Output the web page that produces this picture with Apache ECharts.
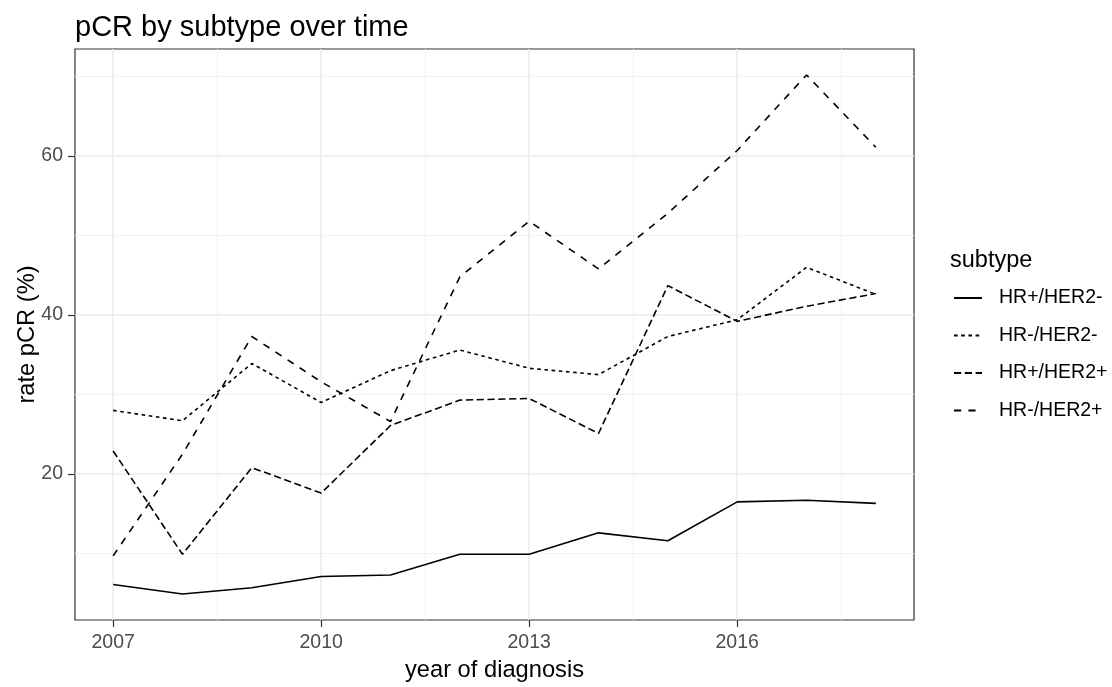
<!DOCTYPE html>
<html>
<head>
<meta charset="utf-8">
<script src="https://cdn.jsdelivr.net/npm/echarts@6/dist/echarts.min.js"></script>
<style>
  html, body { margin: 0; padding: 0; background: #ffffff; }
  #chart { width: 1112px; height: 687px; }
</style>
</head>
<body>
<div id="chart"></div>
<script>
// Year of diagnosis
const years = [2007, 2008, 2009, 2010, 2011, 2012, 2013, 2014, 2015, 2016, 2017, 2018];

// pCR rate (%) per subtype
const hrPosHer2Neg = [6.1, 4.9, 5.7, 7.1, 7.3, 9.9, 9.9, 12.6, 11.6, 16.5, 16.7, 16.3];
const hrNegHer2Neg = [28.0, 26.7, 33.9, 29.0, 33.0, 35.6, 33.3, 32.5, 37.3, 39.4, 46.0, 42.6];
const hrPosHer2Pos = [22.9, 9.9, 20.8, 17.6, 26.1, 29.3, 29.5, 25.1, 43.7, 39.2, 41.1, 42.7];
const hrNegHer2Pos = [9.7, 22.5, 37.3, 31.6, 26.6, 44.8, 51.8, 45.8, 52.8, 60.7, 70.2, 61.1];

const subtypes = ['HR+/HER2-', 'HR-/HER2-', 'HR+/HER2+', 'HR-/HER2+'];

// Axis breaks
const xMajorTicks = [2007, 2010, 2013, 2016];
const xMinorTicks = [2008.5, 2011.5, 2014.5, 2017.5];
const yMajorTicks = [20, 40, 60];
const yMinorTicks = [10, 30, 50, 70];

const FONT = '"Liberation Sans", Arial, Helvetica, sans-serif';

// 5% padding on each side of the data range
function padded(lo, hi) {
  const pad = (hi - lo) * 0.05;
  return [lo - pad, hi + pad];
}
const allValues = [].concat(hrPosHer2Neg, hrNegHer2Neg, hrPosHer2Pos, hrNegHer2Pos);
const [xMin, xMax] = padded(Math.min.apply(null, years), Math.max.apply(null, years));
const [yMin, yMax] = padded(Math.min.apply(null, allValues), Math.max.apply(null, allValues));

const seriesValues = [hrPosHer2Neg, hrNegHer2Neg, hrPosHer2Pos, hrNegHer2Pos];
const dashTypes = ['solid', [3.6, 3.6], [7.2, 3.6], [7.2, 7.2]];

const lineSeries = subtypes.map((name, i) => ({
  name: name,
  type: 'line',
  z: 3,
  data: years.map((yr, k) => [yr, seriesValues[i][k]]),
  symbol: 'none',
  showSymbol: false,
  animation: false,
  lineStyle: { color: '#000000', width: 1.6, type: dashTypes[i] },
  itemStyle: { color: '#000000' }
}));

// Panel grid lines
const gridLineData = []
  .concat(xMinorTicks.map(v => ({ xAxis: v, lineStyle: { color: '#f2f2f2', width: 1, type: 'solid' } })))
  .concat(yMinorTicks.map(v => ({ yAxis: v, lineStyle: { color: '#f2f2f2', width: 1, type: 'solid' } })))
  .concat(xMajorTicks.map(v => ({ xAxis: v, lineStyle: { color: '#ebebeb', width: 1.5, type: 'solid' } })))
  .concat(yMajorTicks.map(v => ({ yAxis: v, lineStyle: { color: '#ebebeb', width: 1.5, type: 'solid' } })));

const gridSeries = {
  name: 'grid',
  type: 'line',
  data: [],
  z: 1,
  silent: true,
  animation: false,
  markLine: {
    z: 1,
    silent: true,
    animation: false,
    symbol: ['none', 'none'],
    label: { show: false },
    emphasis: { disabled: true },
    data: gridLineData
  }
};

const chart = echarts.init(document.getElementById('chart'), null, { renderer: 'canvas' });

chart.setOption({
  backgroundColor: '#ffffff',
  animation: false,
  textStyle: { fontFamily: FONT },
  title: [
    {
      text: 'pCR by subtype over time',
      left: 75,
      top: 13,
      padding: 0,
      textStyle: { fontFamily: FONT, fontSize: 29, fontWeight: 'normal', color: '#000000' }
    },
    {
      text: 'subtype',
      left: 950,
      top: 249,
      padding: 0,
      textStyle: { fontFamily: FONT, fontSize: 23.5, fontWeight: 'normal', color: '#000000' }
    }
  ],
  legend: {
    data: subtypes,
    orient: 'vertical',
    left: 953,
    top: 288,
    padding: 0,
    itemWidth: 28,
    itemHeight: 20,
    itemGap: 17.5,
    selectedMode: false,
    itemStyle: { opacity: 0 },
    textStyle: {
      fontFamily: FONT,
      fontSize: 19.5,
      lineHeight: 20,
      color: '#000000',
      padding: [0, 0, 0, 12]
    }
  },
  grid: {
    left: 75,
    right: 198,
    top: 49,
    bottom: 64,
    show: true,
    borderColor: '#333333',
    borderWidth: 1.2,
    backgroundColor: 'transparent',
    containLabel: false
  },
  xAxis: {
    type: 'value',
    min: xMin,
    max: xMax,
    name: 'year of diagnosis',
    nameLocation: 'middle',
    nameGap: 38,
    nameMoveOverlap: false,
    nameTextStyle: { fontFamily: FONT, fontSize: 23.7, color: '#000000' },
    axisLine: { show: false },
    splitLine: { show: false },
    axisTick: {
      show: true,
      length: 7,
      customValues: xMajorTicks,
      lineStyle: { color: '#333333', width: 1.2 }
    },
    axisLabel: {
      customValues: xMajorTicks,
      margin: 13,
      fontFamily: FONT,
      fontSize: 19.5,
      color: '#4d4d4d',
      formatter: v => String(v)
    }
  },
  yAxis: {
    type: 'value',
    min: yMin,
    max: yMax,
    name: 'rate pCR (%)',
    nameLocation: 'middle',
    nameGap: 36,
    nameRotate: 90,
    nameMoveOverlap: false,
    nameTextStyle: { fontFamily: FONT, fontSize: 23.7, color: '#000000' },
    axisLine: { show: false },
    splitLine: { show: false },
    axisTick: {
      show: true,
      length: 7,
      customValues: yMajorTicks,
      lineStyle: { color: '#333333', width: 1.2 }
    },
    axisLabel: {
      customValues: yMajorTicks,
      margin: 12,
      fontFamily: FONT,
      fontSize: 19.5,
      color: '#4d4d4d',
      formatter: v => String(v)
    }
  },
  series: [gridSeries].concat(lineSeries)
});
</script>
</body>
</html>
